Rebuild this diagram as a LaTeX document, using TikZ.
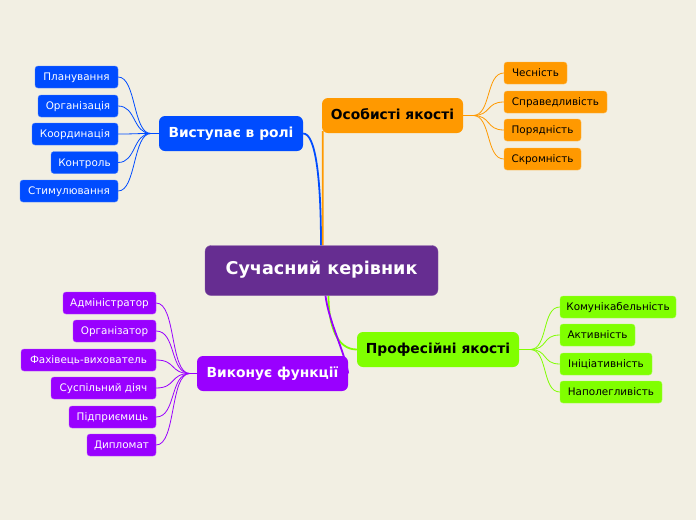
\documentclass[tikz,border=0pt]{standalone}
\usepackage{fontspec}
\setmainfont{DejaVu Sans}
\usetikzlibrary{calc}
\definecolor{bgc}{RGB}{242,239,227}
\definecolor{cpur}{RGB}{102,45,145}
\definecolor{cblue}{RGB}{0,76,255}
\definecolor{corange}{RGB}{255,153,0}
\definecolor{cgreen}{RGB}{128,255,0}
\definecolor{cviol}{RGB}{153,0,255}
\pgfdeclarelayer{bg}
\pgfdeclarelayer{lines}
\pgfsetlayers{bg,lines,main}
\tikzset{
  box/.style={rounded corners=3pt, inner sep=0pt, align=center, text height=0.72em, text depth=0pt},
  mainbox/.style={box, rounded corners=6pt, font=\bfseries\fontsize{13.8}{15}\selectfont},
  leaf/.style={box, minimum height=22, font=\fontsize{10.4}{12}\selectfont},
  leafB/.style={leaf, fill=cblue, draw=cblue!70!white, line width=0.4pt, text=white},
  leafO/.style={leaf, fill=corange, draw=corange!70!white, line width=0.4pt, text=black},
  leafG/.style={leaf, fill=cgreen, draw=cgreen!70!white, line width=0.4pt, text=black},
  leafV/.style={leaf, fill=cviol, draw=cviol!70!white, line width=0.4pt, text=white},
  thin/.style={line width=0.8pt},
  thick/.style={line width=1.8pt},
}
\begin{document}
\begin{tikzpicture}[x=1pt,y=-1pt]
\begin{pgfonlayer}{bg}
\fill[bgc] (0,0) rectangle (696,520);
\end{pgfonlayer}
\useasboundingbox (0,0) rectangle (696,520);

% central
\node[box, rounded corners=6pt, fill=cpur, draw=cpur!80!white, text=white, minimum width=233, minimum height=50, font=\bfseries\fontsize{17.6}{19}\selectfont] (c) at (321.5,270.5) {Сучасний керівник};

% branches
\node[mainbox, fill=cblue, text=white, minimum width=144, minimum height=35] (bl) at (231,133.5) {Виступає в ролі};
\node[mainbox, fill=corange, text=black, minimum width=141, minimum height=35] (o) at (392.5,115.5) {Особисті якості};
\node[mainbox, fill=cgreen, text=black, minimum width=162, minimum height=35] (g) at (438,349.5) {Професійні якості};
\node[mainbox, fill=cviol, text=white, minimum width=151, minimum height=35] (v) at (272.5,373.5) {Виконує функції};

% blue leaves
\node[leafB, minimum width=83] (b1) at (76.5,77) {Планування};
\node[leafB, minimum width=80] (b2) at (78,106) {Організація};
\node[leafB, minimum width=86] (b3) at (75,134) {Координація};
\node[leafB, minimum width=67] (b4) at (84.5,162.5) {Контроль};
\node[leafB, minimum width=98] (b5) at (69,191) {Стимулювання};

% orange leaves
\node[leafO, minimum width=63] (o1) at (535.5,73) {Чесність};
\node[leafO, minimum width=103] (o2) at (555.5,102) {Справедливість};
\node[leafO, minimum width=77] (o3) at (542.5,130) {Порядність};
\node[leafO, minimum width=77] (o4) at (542.5,159) {Скромність};

% green leaves
\node[leafG, minimum width=116] (g1) at (618,307) {Комунікабельність};
\node[leafG, minimum width=75] (g2) at (597.5,335) {Активність};
\node[leafG, minimum width=92] (g3) at (606,364) {Ініціативність};
\node[leafG, minimum width=102] (g4) at (611,392) {Наполегливість};

% violet leaves
\node[leafV, minimum width=93] (v1) at (109.5,303) {Адміністратор};
\node[leafV, minimum width=83] (v2) at (114.5,331) {Організатор};
\node[leafV, minimum width=135] (v3) at (88.5,360) {Фахівець-вихователь};
\node[leafV, minimum width=105] (v4) at (103.5,388) {Суспільний діяч};
\node[leafV, minimum width=87] (v5) at (112.5,417) {Підприємиць};
\node[leafV, minimum width=69] (v6) at (121.5,445) {Дипломат};

\coordinate (bf) at ($(bl.west)+(-8,0)$);
\coordinate (of) at ($(o.east)+(10,0)$);
\coordinate (gf) at ($(g.east)+(11,0)$);
\coordinate (vf) at ($(v.west)+(-7,0)$);

\begin{pgfonlayer}{lines}
% main connectors
\draw[thick, cblue] (bl.east) .. controls +(12,0) and +(0,-70) .. ($(c.north)+(-0.5,0)$);
\draw[thick, corange] ($(o.south west)+(1,-2)$) -- ($(c.north)+(1.2,0)$);
\draw[thick, cgreen] ($(c.south)+(7,0)$) .. controls +(0,30) and +(-20,0) .. (g.west);
\draw[thick, cviol] ($(c.south)+(4,0)$) .. controls +(3,25) and +(-3,-20) .. (v.east);

% leaf connectors
\draw[thin, cblue] (bl.west) -- (bf);
\foreach \n in {b1,b2,b3,b4,b5}
  \draw[thin, cblue] (bf) .. controls +(-18,0) and +(18,0) .. (\n.east);
\draw[thin, corange] (o.east) -- (of);
\foreach \n in {o1,o2,o3,o4}
  \draw[thin, corange] (of) .. controls +(18,0) and +(-18,0) .. (\n.west);
\draw[thin, cgreen] (g.east) -- (gf);
\foreach \n in {g1,g2,g3,g4}
  \draw[thin, cgreen] (gf) .. controls +(18,0) and +(-18,0) .. (\n.west);
\draw[thin, cviol] (v.west) -- (vf);
\foreach \n in {v1,v2,v3,v4,v5,v6}
  \draw[thin, cviol] (vf) .. controls +(-20,0) and +(20,0) .. (\n.east);
\end{pgfonlayer}
\end{tikzpicture}
\end{document}
